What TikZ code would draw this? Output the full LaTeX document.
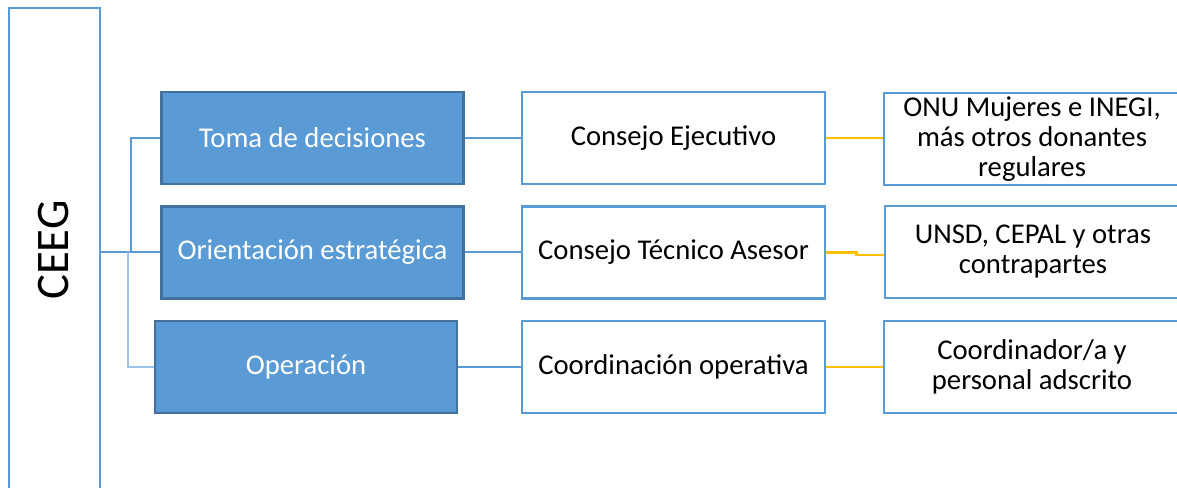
\documentclass[tikz,border=0pt]{standalone}
\usepackage{fontspec}
\setmainfont{Carlito}
\usetikzlibrary{positioning}

\definecolor{roleblue}{HTML}{5B9BD5}
\definecolor{roleedge}{HTML}{41719C}
\definecolor{linkpale}{HTML}{9DC3E6}
\definecolor{linkgold}{HTML}{FFC000}

\begin{document}
\begin{tikzpicture}[x=0.75pt,y=-0.75pt,
    role/.style={draw=roleedge,fill=roleblue,line width=1.9pt,text=white,
      minimum width=226.5pt,minimum height=69pt,inner sep=2pt,
      font=\fontsize{21.5}{22.5}\selectfont},
    body/.style={draw=roleblue,fill=white,line width=1.9pt,
      minimum width=227.25pt,minimum height=69pt,inner sep=2pt,
      font=\fontsize{21.5}{22.5}\selectfont},
    member/.style={body,minimum width=222pt,align=center},
    link/.style={draw=roleblue,line width=1.5pt},
    gold/.style={draw=linkgold,line width=2pt}]
  \useasboundingbox (0,0) rectangle (1177,488);
  \begin{scope}
    \clip (0,0) rectangle (1177,488);
    % left column
    \node[draw=roleblue,line width=1.9pt,minimum width=68.25pt,minimum height=369pt,inner sep=0pt]
      (ceeg) at (54.5,254) {};
    \node[rotate=90,font=\fontsize{35}{37}\selectfont] (ceegtext) at (54,250) {CEEG};
    % roles
    \node[role] (decide) at (312.5,138) {Toma de decisiones};
    \node[role] (orient) at (312.5,252.5) {Orientación estratégica};
    \node[role] (operate) at (306,367) {Operación};
    % bodies
    \node[body] (exec) at (673.5,138) {Consejo Ejecutivo};
    \node[body] (advise) at (673.5,252.5) {Consejo Técnico Asesor};
    \node[body] (coord) at (673.5,367) {Coordinación operativa};
    % members
    \node[member] (donors) at (1032,139) {ONU Mujeres e INEGI,\\más otros donantes\\regulares};
    \node[member] (partners) at (1033,252) {UNSD, CEPAL y otras\\contrapartes};
    \node[member] (staff) at (1032,367) {Coordinador/a y\\personal adscrito};
    % connectors
    \coordinate (fork) at (131,0);
    \coordinate (forklow) at (128,0);
    \draw[link] (ceeg.east |- orient.west) -- (orient.west);
    \draw[link] (fork |- orient.west) |- (decide.west);
    \draw[draw=linkpale,line width=1pt] (forklow |- orient.west) |- (operate.west);
    \draw[link] (decide) -- (exec);
    \draw[link] (orient) -- (advise);
    \draw[link] (operate) -- (coord);
    \draw[gold] (exec.east) -- (donors.west |- exec.east);
    \draw[gold] (advise.east) -- ++(30,0) |- ([yshift=-2.25pt]partners.west);
    \draw[gold] (coord.east) -- (staff.west |- coord.east);
  \end{scope}
\end{tikzpicture}
\end{document}
